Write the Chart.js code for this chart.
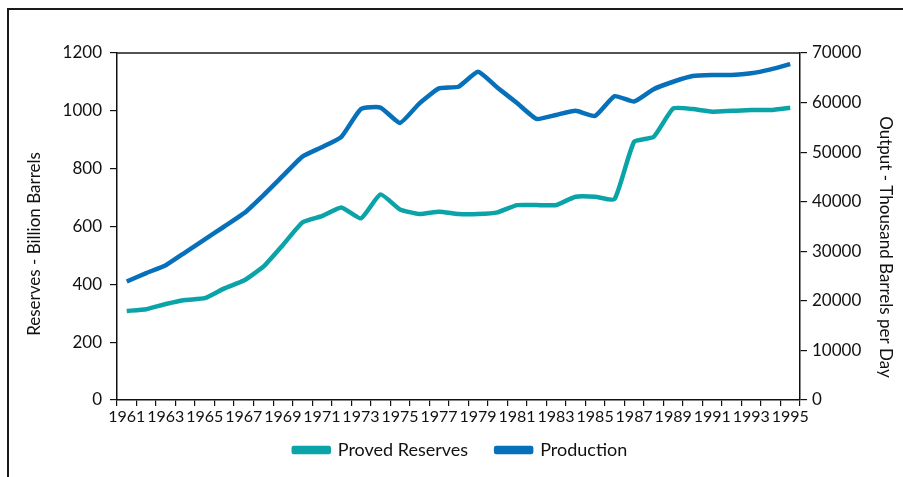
<!DOCTYPE html>
<html>
<head>
<meta charset="utf-8">
<script src="https://cdn.jsdelivr.net/npm/chart.js@4/dist/chart.umd.min.js"></script>
<style>
  html, body { margin: 0; padding: 0; background: #fff; }
  #wrap { width: 903px; height: 477px; position: relative; }
</style>
</head>
<body>
<div id="wrap"><canvas id="oilChart"></canvas></div>
<script>
// years on the x axis
const years = [];
for (let y = 1961; y <= 1995; y++) years.push(String(y));

// proved reserves, billion barrels (left axis)
const reserves = [308, 314, 332, 346, 352, 386, 413, 461, 536, 614, 636, 666, 628, 711, 659,
  643, 651, 643, 643, 649, 674, 674, 674, 703, 703, 695, 893, 910, 1008, 1006,
  997, 1000, 1003, 1003, 1011];

// production, thousand barrels per day (right axis)
const production = [23900, 25600, 27200, 29800, 32400, 35000, 37650, 41300, 45200, 49100, 51000,
  53100, 58700, 59000, 55900, 59850, 62870, 63200, 66220, 63000, 59900, 56700, 57500,
  58350, 57300, 61300, 60200, 62700, 64200, 65350, 65550, 65550, 65900, 66700, 67770];

const leftTicks = [0, 200, 400, 600, 800, 1000, 1200];
const rightTicks = [0, 10000, 20000, 30000, 40000, 50000, 60000, 70000];

const leftTitle = 'Reserves - Billion Barrels';
const rightTitle = 'Output - Thousand Barrels per Day';

const fontFamily = "Lato, 'Open Sans', sans-serif";

// outer frame, top edge of the plot box and the two axis titles
const framePlugin = {
  id: 'frame',
  afterLayout(chart) {
    // pull the legend up a bit, its padding also sets the gap between items
    chart.legend.top -= 15;
    chart.legend.bottom -= 15;
  },
  afterDraw(chart) {
    const { ctx, chartArea } = chart;
    ctx.save();
    ctx.strokeStyle = '#1a1a1a';
    ctx.lineWidth = 2;
    ctx.beginPath();
    ctx.moveTo(903, 9);
    ctx.lineTo(8, 9);
    ctx.lineTo(8, 477);
    ctx.stroke();
    ctx.lineWidth = 1.5;
    ctx.beginPath();
    ctx.moveTo(chartArea.left, chartArea.top);
    ctx.lineTo(chartArea.right, chartArea.top);
    ctx.stroke();

    ctx.fillStyle = '#111';
    ctx.font = '17px ' + fontFamily;
    ctx.textAlign = 'center';
    ctx.textBaseline = 'middle';
    ctx.translate(35, 244);
    ctx.rotate(-Math.PI / 2);
    ctx.fillText(leftTitle, 0, 0);
    ctx.setTransform(1, 0, 0, 1, 0, 0);
    ctx.translate(885, 247);
    ctx.rotate(Math.PI / 2);
    ctx.fillText(rightTitle, 0, 0);
    ctx.restore();
  }
};

const plainNumber = v => String(v);

const ctx = document.getElementById('oilChart').getContext('2d');
new Chart(ctx, {
  type: 'line',
  data: {
    labels: years,
    datasets: [{
      label: 'Proved Reserves',
      data: reserves,
      yAxisID: 'y',
      borderColor: '#0aa3a7',
      backgroundColor: '#0aa3a7',
      borderWidth: 4.5,
      pointRadius: 0,
      tension: 0.15,
      borderJoinStyle: 'round'
    }, {
      label: 'Production',
      data: production,
      yAxisID: 'y2',
      borderColor: '#0770ba',
      backgroundColor: '#0770ba',
      borderWidth: 4.5,
      pointRadius: 0,
      tension: 0.15,
      borderJoinStyle: 'round'
    }]
  },
  options: {
    responsive: true,
    maintainAspectRatio: false,
    animation: false,
    layout: { padding: { left: 26, right: 8, top: 53, bottom: -7 } },
    plugins: {
      legend: {
        position: 'bottom',
        labels: {
          boxWidth: 35,
          boxHeight: 4,
          padding: 28,
          color: '#111',
          font: { family: fontFamily, size: 18 }
        }
      },
      tooltip: { enabled: false }
    },
    scales: {
      x: {
        offset: true,
        grid: { offset: true, drawOnChartArea: false, drawTicks: true, tickLength: 6, color: '#111', lineWidth: 1.2 },
        border: { color: '#111', width: 1.5 },
        ticks: {
          autoSkip: false,
          maxRotation: 0,
          padding: 1,
          color: '#111',
          font: { family: fontFamily, size: 16 },
          callback: function (val, i) { return i % 2 === 0 ? years[i] : ''; }
        },
        afterFit: s => { s.height = 28; }
      },
      y: {
        position: 'left',
        min: 0,
        max: 1200,
        afterBuildTicks: s => { s.ticks = leftTicks.map(v => ({ value: v })); },
        grid: { drawOnChartArea: false, tickLength: 7, color: '#111', lineWidth: 1.2 },
        border: { color: '#111', width: 1.5 },
        ticks: { padding: 8, color: '#111', font: { family: fontFamily, size: 17 }, callback: plainNumber },
        afterFit: s => { s.width = 91; }
      },
      y2: {
        position: 'right',
        min: 0,
        max: 70000,
        afterBuildTicks: s => { s.ticks = rightTicks.map(v => ({ value: v })); },
        grid: { drawOnChartArea: false, tickLength: 7, color: '#111', lineWidth: 1.2 },
        border: { color: '#111', width: 1.5 },
        ticks: { padding: 5, color: '#111', font: { family: fontFamily, size: 17 }, callback: plainNumber },
        afterFit: s => { s.width = 95; }
      }
    }
  },
  plugins: [framePlugin]
});
</script>
</body>
</html>
